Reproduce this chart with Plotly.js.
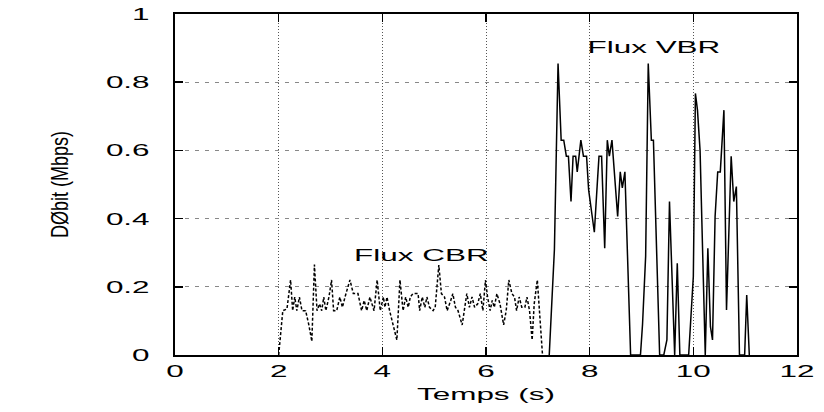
<!DOCTYPE html>
<html><head><meta charset="utf-8">
<script src="https://cdn.plot.ly/plotly-3.0.1.min.js"></script>
<style>html,body{margin:0;padding:0;background:#fff}#chart{width:824px;height:412px}</style>
</head><body><div id="chart"></div>
<script>
// CBR flow (dashed)
const cbrTime = [2.00,2.08,2.16,2.23,2.27,2.31,2.35,2.40,2.45,2.52,2.58,2.64,2.69,2.74,2.79,2.83,2.87,2.91,2.97,3.02,3.06,3.12,3.18,3.23,3.28,3.375,3.44,3.53,3.60,3.65,3.70,3.76,3.84,3.90,3.96,4.02,4.05,4.09,4.14,4.28,4.34,4.40,4.45,4.50,4.54,4.59,4.69,4.72,4.77,4.82,4.86,4.91,4.98,5.02,5.09,5.14,5.20,5.25,5.32,5.36,5.41,5.46,5.54,5.63,5.68,5.73,5.78,5.84,5.89,5.94,5.99,6.03,6.08,6.12,6.16,6.21,6.27,6.34,6.39,6.44,6.50,6.55,6.59,6.64,6.69,6.75,6.79,6.84,6.89,6.93,6.99,7.06,7.09];
const cbrRate = [0,0.13,0.135,0.22,0.13,0.17,0.13,0.17,0.13,0.13,0.09,0.04,0.265,0.13,0.15,0.13,0.17,0.13,0.17,0.22,0.13,0.13,0.17,0.14,0.17,0.22,0.18,0.18,0.13,0.16,0.13,0.17,0.13,0.22,0.13,0.17,0.14,0.17,0.13,0.044,0.22,0.13,0.17,0.14,0.17,0.18,0.18,0.13,0.17,0.14,0.17,0.14,0.13,0.14,0.264,0.18,0.17,0.13,0.16,0.18,0.14,0.13,0.088,0.18,0.14,0.17,0.14,0.15,0.18,0.13,0.22,0.17,0.13,0.16,0.14,0.18,0.15,0.088,0.13,0.22,0.18,0.17,0.13,0.17,0.14,0.14,0.17,0.13,0.044,0.15,0.22,0.06,0];
// VBR flow (solid)
const vbrTime = [7.22,7.32,7.39,7.45,7.50,7.55,7.59,7.64,7.68,7.73,7.76,7.83,7.88,7.94,7.98,8.09,8.15,8.18,8.23,8.29,8.34,8.38,8.43,8.54,8.59,8.63,8.68,8.79,8.98,9.02,9.08,9.13,9.19,9.23,9.35,9.43,9.49,9.54,9.64,9.69,9.74,9.91,10.00,10.04,10.08,10.13,10.23,10.28,10.33,10.37,10.42,10.47,10.52,10.59,10.64,10.73,10.78,10.83,10.89,10.99,11.03,11.08];
const vbrRate = [0,0.31,0.855,0.63,0.63,0.583,0.583,0.45,0.583,0.583,0.537,0.63,0.583,0.583,0.484,0.36,0.51,0.583,0.583,0.313,0.63,0.583,0.63,0.406,0.537,0.49,0.537,0,0,0.09,0.29,0.855,0.63,0.63,0,0,0.044,0.45,0,0.269,0,0,0.23,0.767,0.718,0.6,0,0.313,0.083,0.044,0.406,0.537,0.537,0.718,0.132,0.583,0.45,0.494,0,0,0.176,0];

const xTickVals = [0,2,4,6,8,10,12];
const xTickText = ['0','2','4','6','8','10','12'];
const yTickVals = [0,0.2,0.4,0.6,0.8,1];
const yTickText = ['0','0.2','0.4','0.6','0.8','1'];
const flowLabels = ['Flux CBR','Flux VBR'];
const flowLabelX = [4.75, 9.25];
const flowLabelY = [0.292, 0.902];

const FONT = 'Liberation Sans, Arial, Helvetica, sans-serif';
const STRETCH = 1.85;
const YTITLE_STRETCH = 1.35;

const data = [
  {x: cbrTime, y: cbrRate, type:'scatter', mode:'lines', name:'CBR',
   line:{color:'#000', width:1.5, dash:'3px,2px'}, hoverinfo:'skip'},
  {x: vbrTime, y: vbrRate, type:'scatter', mode:'lines', name:'VBR',
   line:{color:'#000', width:1.5}, hoverinfo:'skip'}
];

const axisCommon = {
  ticks:'inside', ticklen:8, tickwidth:1.5, tickcolor:'#000',
  showline:true, linewidth:2, linecolor:'#000', mirror:'ticks',
  showgrid:true, gridwidth:1, zeroline:false,
  tickfont:{family:FONT, size:17, color:'#000'}
};

const layout = {
  width:824, height:412,
  margin:{l:175, r:27, t:14, b:57, pad:0},
  paper_bgcolor:'#fff', plot_bgcolor:'#fff',
  showlegend:false,
  xaxis: Object.assign({}, axisCommon, {
    range:[0,12], tickmode:'array', tickvals:xTickVals, ticktext:xTickText,
    gridcolor:'#555', griddash:'1px,2px', ticklabelstandoff:0,
    title:{text:'Temps (s)', font:{family:FONT, size:17, color:'#000'}, standoff:8}
  }),
  yaxis: Object.assign({}, axisCommon, {
    range:[0,1], tickmode:'array', tickvals:yTickVals, ticktext:yTickText,
    gridcolor:'#888', griddash:'4px,6px', ticklabelstandoff:20,
    title:{text:'DØbit (Mbps)', font:{family:FONT, size:18, color:'#000'}, standoff:54}
  }),
  annotations: flowLabels.map((t,i)=>({
    text:t, x:flowLabelX[i], y:flowLabelY[i], xref:'x', yref:'y',
    showarrow:false, xanchor:'center', yanchor:'middle',
    font:{family:FONT, size:17, color:'#000'}
  }))
};

function stretchText(gd){
  const els = gd.querySelectorAll('.xtick text, .ytick text, .annotation-text, .g-xtitle text');
  els.forEach(t=>{
    const bb = t.getBBox();
    const anchor = t.getAttribute('text-anchor') || 'start';
    let cx;
    if (anchor==='end') cx = bb.x + bb.width;
    else if (anchor==='start' && !t.classList.contains('annotation-text')) cx = bb.x;
    else cx = bb.x + bb.width/2;
    const prev = t.getAttribute('transform') || '';
    t.setAttribute('transform', prev + ' translate(' + cx + ',0) scale(' + STRETCH + ',1) translate(' + (-cx) + ',0)');
  });
  // y title: rotated text, widen its glyph height (screen x direction)
  const yt = gd.querySelector('.g-ytitle text');
  if (yt){
    const sx = parseFloat(yt.getAttribute('x')) - 4;
    const prev = yt.getAttribute('transform') || '';
    yt.setAttribute('transform', 'translate(' + sx + ',0) scale(' + YTITLE_STRETCH + ',1) translate(' + (-sx) + ',0) ' + prev);
  }
}

Plotly.newPlot('chart', data, layout, {displayModeBar:false, staticPlot:true}).then(stretchText);
</script>
</body></html>
